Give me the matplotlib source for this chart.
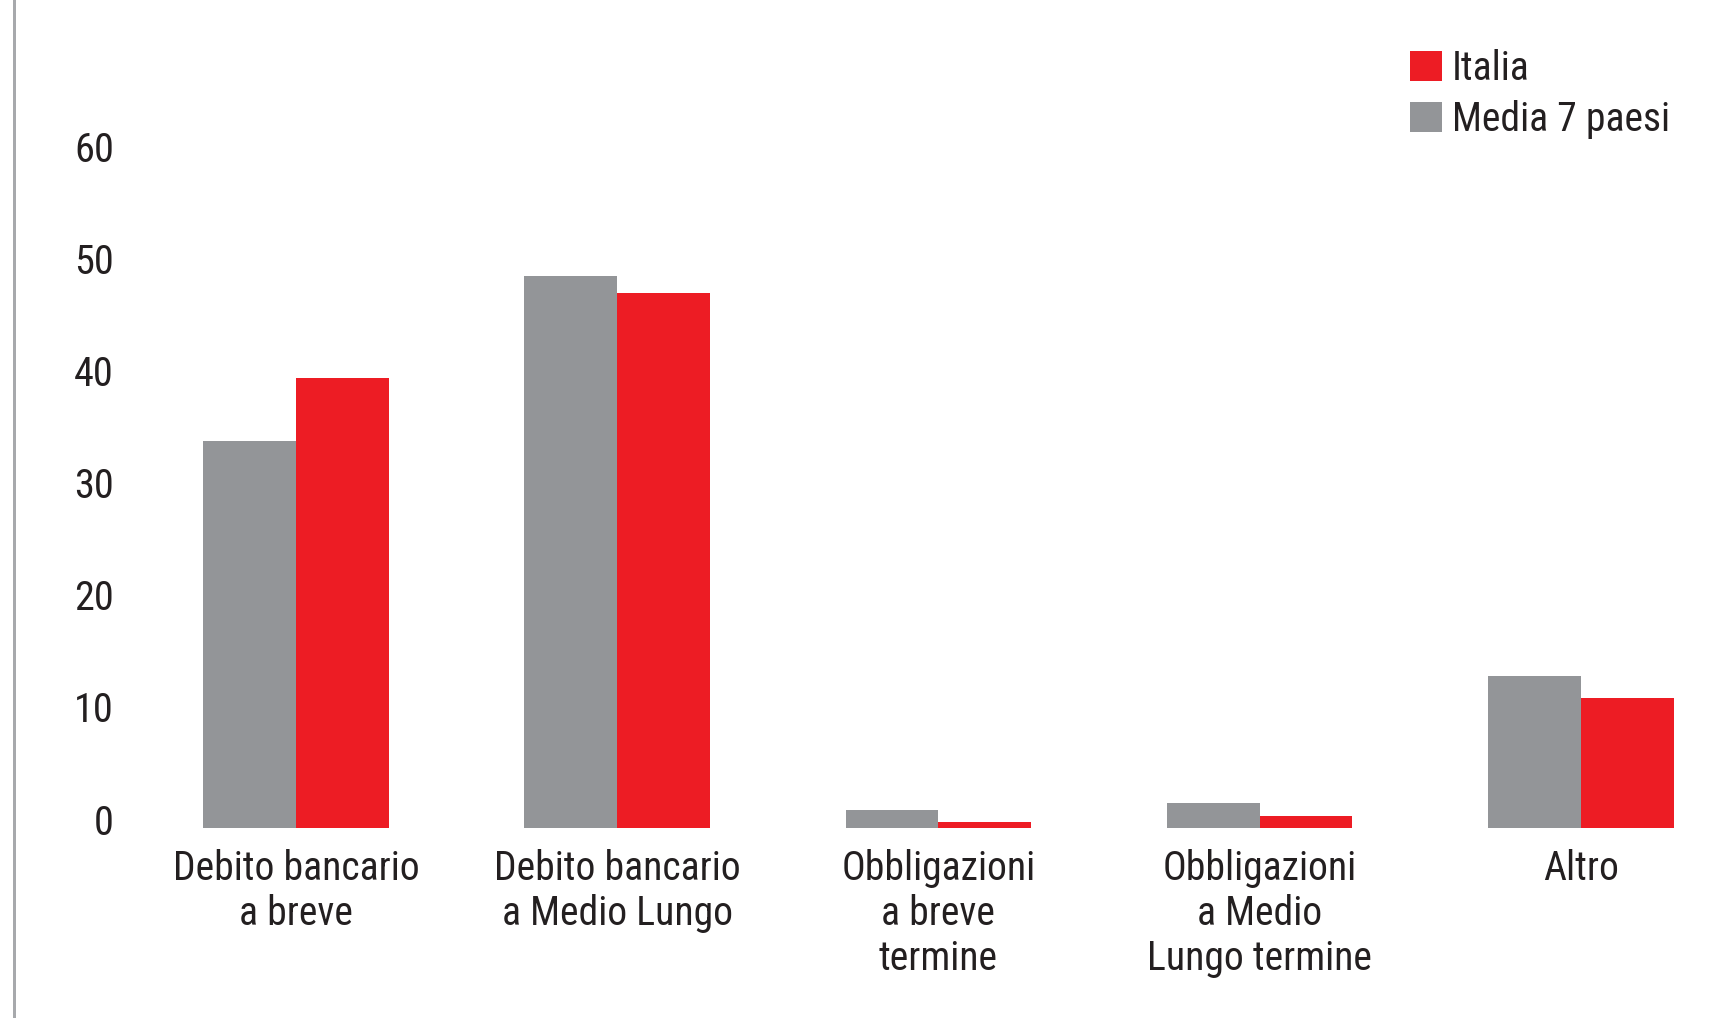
import numpy as np
import matplotlib
matplotlib.use("Agg")
import matplotlib.pyplot as plt
from matplotlib import font_manager
from matplotlib.lines import Line2D
from matplotlib.patches import Patch
from matplotlib.transforms import ScaledTranslation

# composizione del debito delle imprese (%)
categorie = [
    "Debito bancario\na breve",
    "Debito bancario\na Medio Lungo",
    "Obbligazioni\na breve\ntermine",
    "Obbligazioni\na Medio\nLungo termine",
    "Altro",
]
media_7_paesi = [34.5, 49.2, 1.6, 2.2, 13.5]
italia = [40.1, 47.7, 0.5, 1.0, 11.6]
yticks = [0, 10, 20, 30, 40, 50, 60]

ROSSO = "#ED1C24"
GRIGIO = "#939598"
TESTO = "#231F20"

# font condensato se disponibile
installed = {f.name for f in font_manager.fontManager.ttflist}
for fam in ["Liberation Sans Narrow", "DejaVu Sans Condensed", "Roboto Condensed", "Liberation Sans"]:
    if fam in installed:
        break
plt.rcParams["font.family"] = [fam, "DejaVu Sans"]

W, H, DPI = 1719, 1018, 100
fig = plt.figure(figsize=(W / DPI, H / DPI), dpi=DPI)
fig.patch.set_facecolor("white")

base_px = 827.7          # linea dello zero, px dall'alto
px_unit = 11.22          # px per punto percentuale
passo = 321.2            # distanza tra gruppi, px
centro0 = 296.0          # centro del primo gruppo, px

ax = fig.add_axes([0, (H - base_px) / H, 1, base_px / H])
ax.set_xlim(-centro0 / passo, (W - centro0) / passo)
ax.set_ylim(0, base_px / px_unit)

x = np.arange(len(categorie))
w = 0.289
ax.bar(x - w / 2, media_7_paesi, width=w, color=GRIGIO, linewidth=0)
ax.bar(x + w / 2, italia, width=w, color=ROSSO, linewidth=0)

for s in ax.spines.values():
    s.set_visible(False)

ax.set_yticks(yticks)
ax.set_yticklabels([str(v) for v in yticks], fontsize=29, color=TESTO)
ax.tick_params(axis="y", length=0, pad=-114 * 72 / DPI)
up = ScaledTranslation(0, 8.5 / DPI, fig.dpi_scale_trans)
for t in ax.yaxis.get_major_ticks():
    t.label1.set_transform(t.label1.get_transform() + up)

ax.set_xticks(x)
ax.set_xticklabels(categorie, fontsize=28.5, color=TESTO, linespacing=1.2)
ax.tick_params(axis="x", length=0, pad=15)

# linea verticale a sinistra
fig.add_artist(Line2D([13.7 / W, 13.7 / W], [0, 1], transform=fig.transFigure,
                      color="#A7A9AC", linewidth=3 * 72 / DPI))

handles = [Patch(facecolor=ROSSO, label="Italia"),
           Patch(facecolor=GRIGIO, label="Media 7 paesi")]
leg = ax.legend(handles=handles, loc="upper left",
                bbox_to_anchor=(1410 / W, 1 - 49 / H), bbox_transform=fig.transFigure,
                frameon=False, fontsize=28.5, borderpad=0, borderaxespad=0,
                handlelength=0.8, handleheight=0.8, handletextpad=0.26,
                labelspacing=0.3)
for t in leg.get_texts():
    t.set_color(TESTO)

fig.savefig("out.png", dpi=DPI)
